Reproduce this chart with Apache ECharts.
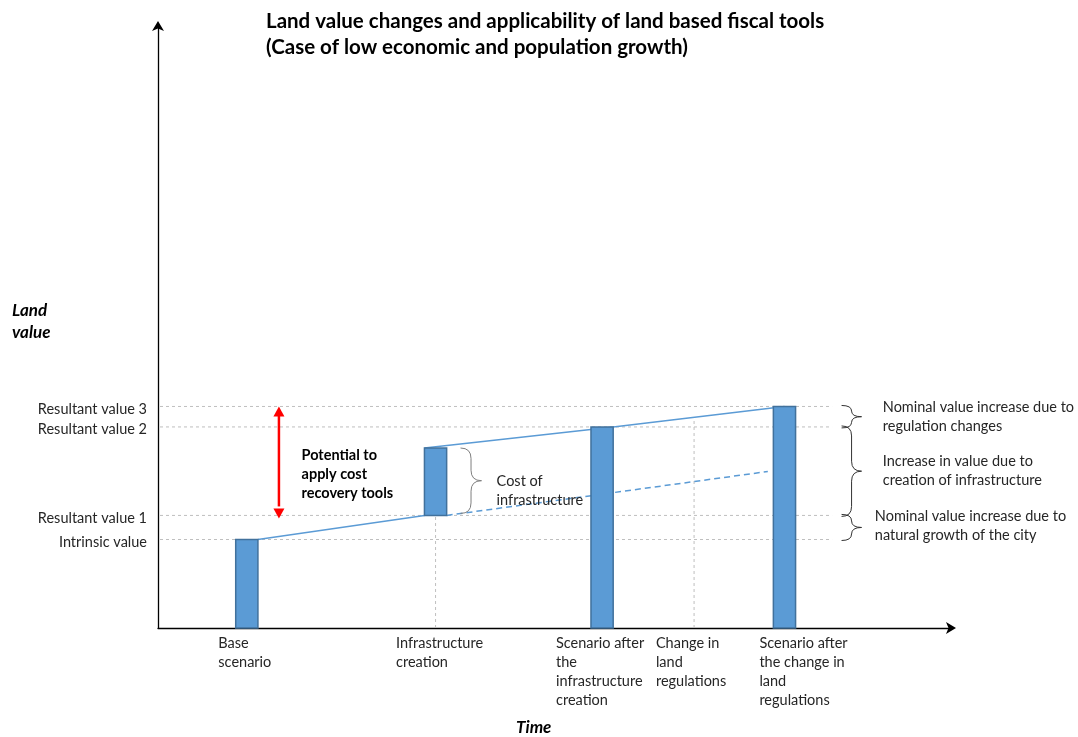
<!DOCTYPE html>
<html>
<head>
<meta charset="utf-8">
<script src="https://cdn.jsdelivr.net/npm/echarts@6/dist/echarts.min.js"></script>
<style>
  html, body { margin: 0; padding: 0; background: #ffffff; }
  #chart { width: 1078px; height: 737px; }
</style>
</head>
<body>
<div id="chart"></div>
<script>
// Stages along the time axis and where they sit (time units)
const stageLabels = [
  'Base\nscenario',
  'Infrastructure\ncreation',
  'Scenario after\nthe\ninfrastructure\ncreation',
  'Change in\nland\nregulations',
  'Scenario after\nthe change in\nland\nregulations'
];
const stageTimes = [1.12, 3.5, 5.6, 6.76, 7.9];

// Land value levels marked on the value axis
const levelLabels = ['Intrinsic value', 'Resultant value 1', 'Resultant value 2', 'Resultant value 3'];
const levelValues = [14.7, 18.7, 33.4, 36.8];

// Bars: stage index, bottom value, top value
const barStages = [0, 1, 2, 4];
const barLows = [0, 18.7, 0, 0];
const barHighs = [14.7, 29.9, 33.4, 36.8];

// End point of the growth trend without the new infrastructure [time, value]
const trendNoInfraEnd = [7.69, 26.0];

// Explanatory notes
const noteRegulation = 'Nominal value increase due to\nregulation changes';
const noteInfra = 'Increase in value due to\ncreation of infrastructure';
const noteNatural = 'Nominal value increase due to\nnatural growth of the city';
const noteCost = 'Cost of\ninfrastructure';
const notePotential = 'Potential to\napply cost\nrecovery tools';

const FONT = 'Lato, "Open Sans", sans-serif';
const TEXT = '#262626';
const BLUE = '#5B9BD5';
const BLUE_EDGE = '#41719C';
const GRID = '#BFBFBF';
const FS = 14.5;         // body text size
const BAR_HALF = 0.14;   // half bar width in time units

const T = stageTimes;
const lowerTrend = [[T[0] + BAR_HALF, barHighs[0]], [T[1] - BAR_HALF, barLows[1]]];
const upperTrend = [[T[1] - BAR_HALF, barHighs[1]], [T[2] + BAR_HALF, barHighs[2]], [T[4], barHighs[3]]];
const noInfraTrend = [[T[1] + BAR_HALF, barLows[1]], trendNoInfraEnd];

function valueOnTrend(pts, t) {
  for (let i = 0; i < pts.length - 1; i++) {
    const a = pts[i], b = pts[i + 1];
    if (t >= a[0] && t <= b[0]) return a[1] + (b[1] - a[1]) * (t - a[0]) / (b[0] - a[0]);
  }
  return pts[pts.length - 1][1];
}

const measureCtx = document.createElement('canvas').getContext('2d');
function textWidth(str, font) {
  measureCtx.font = font;
  return Math.max.apply(null, str.split('\n').map(s => measureCtx.measureText(s).width));
}

// Right-pointing curly brace from y1 (top) to y2 (bottom) starting at x0
function bracePath(x0, y1, y2, w) {
  const xm = x0 + w / 2, xt = x0 + w, ym = (y1 + y2) / 2;
  const r = Math.min(w / 2, (ym - y1) / 2);
  return 'M' + x0 + ',' + y1 +
    ' Q' + xm + ',' + y1 + ' ' + xm + ',' + (y1 + r) +
    ' L' + xm + ',' + (ym - r) +
    ' Q' + xm + ',' + ym + ' ' + xt + ',' + ym +
    ' Q' + xm + ',' + ym + ' ' + xm + ',' + (ym + r) +
    ' L' + xm + ',' + (y2 - r) +
    ' Q' + xm + ',' + y2 + ' ' + x0 + ',' + y2;
}

const chart = echarts.init(document.getElementById('chart'), null, { renderer: 'canvas' });

const labelNudge = [-2, 4, -2, -3, 19];

const axisLineStyle = {
  show: true, onZero: false, symbol: ['none', 'arrow'], symbolSize: [9, 10], symbolOffset: [0, 5],
  lineStyle: { color: '#000', width: 1.3 }
};

const option = {
  animation: false,
  backgroundColor: '#ffffff',
  title: [
    {
      text: 'Land value changes and applicability of land based fiscal tools\n(Case of low economic and population growth)',
      left: 266, top: 8, padding: 0,
      textStyle: { fontFamily: FONT, fontSize: 20.5, fontWeight: 'bold', lineHeight: 26, color: '#000' }
    },
    {
      text: 'Land\nvalue', left: 12, top: 300, padding: 0,
      textStyle: { fontFamily: FONT, fontSize: 17, fontWeight: 'bold', fontStyle: 'italic', lineHeight: 22, color: '#000' }
    },
    {
      text: 'Time', left: 516, top: 718, padding: 0,
      textStyle: { fontFamily: FONT, fontSize: 17, fontWeight: 'bold', fontStyle: 'italic', lineHeight: 20, color: '#000' }
    }
  ],
  grid: { left: 158, right: 127, top: 26, bottom: 109, containLabel: false },
  xAxis: {
    type: 'value', min: 0, max: 10,
    axisLine: axisLineStyle,
    axisTick: { show: false }, axisLabel: { show: false }, splitLine: { show: false }
  },
  yAxis: {
    type: 'value', min: 0, max: 100,
    axisLine: axisLineStyle,
    axisTick: { show: false }, axisLabel: { show: false }, splitLine: { show: false }
  },
  series: [
    // Value levels: dashed guide lines and their names
    {
      type: 'custom', z: 1, silent: true,
      data: levelValues.map((v, i) => [0, v, i]),
      renderItem: function (params, api) {
        const v = api.value(1), i = api.value(2);
        const p0 = api.coord([0, v]);
        const p1 = api.coord([8.5, v]);
        return {
          type: 'group',
          children: [
            { type: 'line', shape: { x1: p0[0] + 2, y1: p0[1], x2: p1[0], y2: p1[1] },
              style: { stroke: GRID, lineWidth: 1, lineDash: [3, 3] } },
            { type: 'text', x: p0[0] - 11, y: p0[1] + 2.5,
              style: { text: levelLabels[i], fill: TEXT, fontFamily: FONT, fontSize: FS,
                align: 'right', verticalAlign: 'middle' } }
          ]
        };
      }
    },
    // Vertical guides at the infrastructure and regulation stages
    {
      type: 'line', z: 1, symbol: 'none', silent: true,
      lineStyle: { color: GRID, width: 1, type: [3, 3] },
      data: [[T[1], 0], [T[1], barLows[1]]]
    },
    {
      type: 'line', z: 1, symbol: 'none', silent: true,
      lineStyle: { color: GRID, width: 1, type: [3, 3] },
      data: [[T[3], 0], [T[3], valueOnTrend(upperTrend, T[3])]]
    },
    // Value trends
    {
      type: 'line', z: 2, symbol: 'none', silent: true,
      lineStyle: { color: BLUE, width: 1.5 }, data: lowerTrend
    },
    {
      type: 'line', z: 2, symbol: 'none', silent: true,
      lineStyle: { color: BLUE, width: 1.5 }, data: upperTrend
    },
    {
      type: 'line', z: 2, symbol: 'none', silent: true,
      lineStyle: { color: BLUE, width: 1.5, type: [6, 4] }, data: noInfraTrend
    },
    // Bars
    {
      type: 'custom', z: 3, silent: true,
      data: barStages.map((s, i) => [T[s], barLows[i], barHighs[i]]),
      renderItem: function (params, api) {
        const t = api.value(0);
        const a = api.coord([t - BAR_HALF, api.value(2)]);
        const b = api.coord([t + BAR_HALF, api.value(1)]);
        return {
          type: 'rect',
          shape: { x: a[0], y: a[1], width: b[0] - a[0], height: b[1] - a[1] },
          style: { fill: BLUE, stroke: BLUE_EDGE, lineWidth: 1.5 }
        };
      }
    },
    // Stage names under the time axis
    {
      type: 'custom', z: 4, silent: true,
      data: T.map((t, i) => [t, 0, i]),
      renderItem: function (params, api) {
        const i = api.value(2);
        const p = api.coord([api.value(0), 0]);
        const w = textWidth(stageLabels[i], FS + 'px ' + FONT);
        return {
          type: 'text', x: p[0] - w / 2 + labelNudge[i], y: p[1] + 5.5,
          style: { text: stageLabels[i], fill: TEXT, fontFamily: FONT, fontSize: FS, lineHeight: 19,
            align: 'left', verticalAlign: 'top' }
        };
      }
    },
    // Potential for cost recovery: red double arrow and note
    {
      type: 'custom', z: 4, silent: true,
      data: [[1.525, levelValues[1], levelValues[3]]],
      renderItem: function (params, api) {
        const top = api.coord([api.value(0), api.value(2)]);
        const bot = api.coord([api.value(0), api.value(1)]);
        const x = top[0], hl = 10, hw = 5.5;
        const note = api.coord([1.81, 25.6]);
        return {
          type: 'group',
          children: [
            { type: 'line', shape: { x1: x, y1: top[1] + hl - 1, x2: x, y2: bot[1] - hl + 1 },
              style: { stroke: '#FF0000', lineWidth: 2.5 } },
            { type: 'polygon', shape: { points: [[x, top[1]], [x - hw, top[1] + hl], [x + hw, top[1] + hl]] },
              style: { fill: '#FF0000' } },
            { type: 'polygon', shape: { points: [[x, bot[1] + 3], [x - hw, bot[1] + 3 - hl], [x + hw, bot[1] + 3 - hl]] },
              style: { fill: '#FF0000' } },
            { type: 'text', x: note[0], y: note[1],
              style: { text: notePotential, fill: '#000', fontFamily: FONT, fontSize: FS, fontWeight: 'bold',
                lineHeight: 19, align: 'left', verticalAlign: 'middle' } }
          ]
        };
      }
    },
    // Cost of infrastructure brace and note
    {
      type: 'custom', z: 4, silent: true,
      data: [[3.815, barLows[1], barHighs[1]]],
      renderItem: function (params, api) {
        const top = api.coord([api.value(0), api.value(2)]);
        const bot = api.coord([api.value(0), api.value(1)]);
        const note = api.coord([4.27, 22.76]);
        return {
          type: 'group',
          children: [
            { type: 'path', shape: { pathData: bracePath(top[0], top[1], bot[1] - 2, 21) },
              style: { fill: 'none', stroke: '#7F7F7F', lineWidth: 1 } },
            { type: 'text', x: note[0], y: note[1],
              style: { text: noteCost, fill: TEXT, fontFamily: FONT, fontSize: FS, lineHeight: 19,
                align: 'left', verticalAlign: 'middle' } }
          ]
        };
      }
    },
    // Braces and notes explaining each value step
    {
      type: 'custom', z: 4, silent: true,
      data: [
        [8.62, levelValues[2], levelValues[3], 0],
        [8.62, levelValues[1], levelValues[2], 1],
        [8.62, levelValues[0], levelValues[1], 2]
      ],
      renderItem: function (params, api) {
        const i = api.value(3);
        const top = api.coord([api.value(0), api.value(2)]);
        const bot = api.coord([api.value(0), api.value(1)]);
        const notes = [noteRegulation, noteInfra, noteNatural];
        const noteX = [9.14, 9.14, 9.04];
        const noteDy = [0, 0, -2];
        const nx = api.coord([noteX[i], 0])[0];
        return {
          type: 'group',
          children: [
            { type: 'path', shape: { pathData: bracePath(top[0], top[1] - 1, bot[1] + 1, 20) },
              style: { fill: 'none', stroke: '#333333', lineWidth: 1 } },
            { type: 'text', x: nx, y: (top[1] + bot[1]) / 2 + noteDy[i],
              style: { text: notes[i], fill: TEXT, fontFamily: FONT, fontSize: FS, lineHeight: 19,
                align: 'left', verticalAlign: 'middle' } }
          ]
        };
      }
    }
  ]
};

chart.setOption(option);
</script>
</body>
</html>
